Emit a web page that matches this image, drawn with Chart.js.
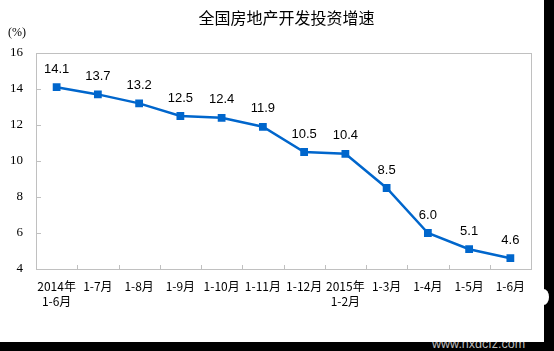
<!DOCTYPE html>
<html>
<head>
<meta charset="utf-8">
<script src="https://cdn.jsdelivr.net/npm/chart.js@4"></script>
<style>
  html, body { margin: 0; padding: 0; background: #000; width: 554px; height: 351px; overflow: hidden; }
  #wrap { position: absolute; left: 0; top: 0; width: 544px; height: 342px; background: #fff; z-index: 2; }
  #bump { position: absolute; left: 538px; top: 289px; width: 11px; height: 16px; border-radius: 50%; background: #fff; z-index: 1; }
  #wm { position: absolute; left: 432px; top: 337px; font: 12.5px "Liberation Sans", Arial, sans-serif; color: #bdbdbd; z-index: 1; }
  canvas { display: block; }
</style>
</head>
<body>
<div id="wm">www.nxdcfz.com</div>
<div id="bump"></div>
<div id="wrap"><canvas id="c" width="544" height="342"></canvas></div>
<script>
const titleText = "全国房地产开发投资增速";
const unitText = "(%)";
const categories = [["2014年","1-6月"], "1-7月", "1-8月", "1-9月", "1-10月", "1-11月", "1-12月", ["2015年","1-2月"], "1-3月", "1-4月", "1-5月", "1-6月"];
const growth = [14.1, 13.7, 13.2, 12.5, 12.4, 11.9, 10.5, 10.4, 8.5, 6.0, 5.1, 4.6];
const yMin = 4, yMax = 16, yStep = 2;

const decor = {
  id: 'decor',
  afterDraw(chart) {
    const ctx = chart.ctx;
    const a = chart.chartArea;
    const xs = chart.scales.x, ys = chart.scales.y;
    ctx.save();
    ctx.strokeStyle = '#c0c0c0';
    ctx.lineWidth = 1;
    ctx.strokeRect(Math.round(a.left) + 0.5, Math.round(a.top) + 0.5, Math.round(a.right - a.left), Math.round(a.bottom - a.top));
    ctx.beginPath();
    ys.ticks.forEach((t, i) => {
      const y = Math.round(ys.getPixelForTick(i)) + 0.5;
      ctx.moveTo(a.left, y); ctx.lineTo(a.left + 5, y);
    });
    for (let i = 0; i < categories.length - 1; i++) {
      const x = Math.round((xs.getPixelForTick(i) + xs.getPixelForTick(i + 1)) / 2) + 0.5;
      ctx.moveTo(x, a.bottom); ctx.lineTo(x, a.bottom - 4);
    }
    ctx.stroke();
    const meta = chart.getDatasetMeta(0);
    ctx.fillStyle = '#000';
    ctx.font = '13px "Liberation Sans", Arial, sans-serif';
    ctx.textAlign = 'center';
    ctx.textBaseline = 'middle';
    meta.data.forEach((p, i) => {
      ctx.fillText(growth[i].toFixed(1), p.x, p.y - 18);
    });
    ctx.font = '16px "Noto Sans CJK SC", sans-serif';
    ctx.fillText(titleText, (a.left + a.right) / 2 + 3, 18);
    ctx.font = '12px "Liberation Serif", serif';
    ctx.textAlign = 'left';
    ctx.fillText(unitText, 8, 33);
    ctx.restore();
  }
};

new Chart(document.getElementById('c'), {
  type: 'line',
  data: {
    labels: categories,
    datasets: [{
      data: growth,
      borderColor: '#0066cc',
      backgroundColor: '#0066cc',
      borderWidth: 2.5,
      pointStyle: 'rect',
      pointRadius: 5.5,
      pointBorderWidth: 0,
      tension: 0,
      fill: false
    }]
  },
  options: {
    responsive: false,
    animation: false,
    events: [],
    layout: { padding: { top: 53, right: 13, left: 0, bottom: 0 } },
    plugins: { legend: { display: false }, title: { display: false }, tooltip: { enabled: false } },
    scales: {
      x: {
        offset: true,
        grid: { display: false, drawTicks: false },
        border: { display: false },
        ticks: {
          color: '#000',
          font: { size: 12, family: '"Noto Sans CJK SC", sans-serif', lineHeight: 1.25 },
          padding: 10,
          maxRotation: 0,
          autoSkip: false
        },
        afterFit(s) { s.height = 73; }
      },
      y: {
        min: yMin, max: yMax,
        grid: { display: false, drawTicks: false },
        border: { display: false },
        ticks: {
          stepSize: yStep,
          color: '#000',
          font: { size: 13, family: '"Liberation Serif", "Times New Roman", serif' },
          padding: 13
        },
        afterFit(s) { s.width = 36; }
      }
    }
  },
  plugins: [decor]
});
</script>
</body>
</html>
